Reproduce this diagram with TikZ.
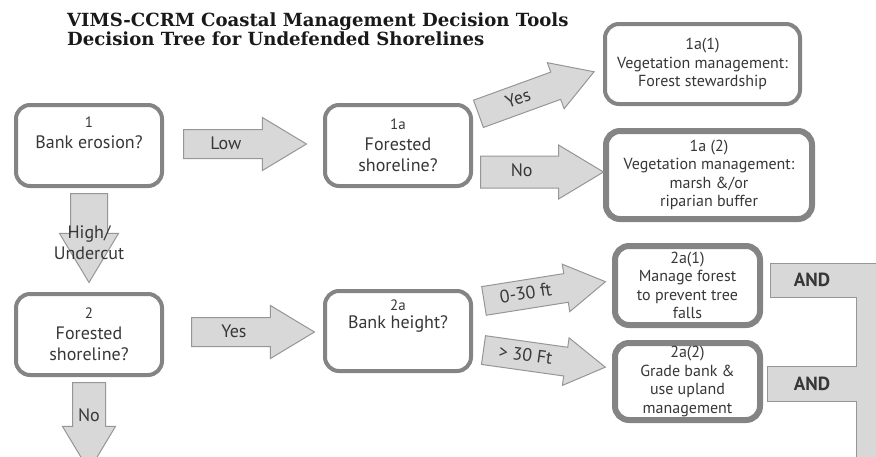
\documentclass[tikz,border=0pt]{standalone}
\usepackage{fontspec}
\setmainfont{PT Sans}
\newfontfamily\titlefont{DejaVu Serif}
\usetikzlibrary{shapes.arrows,positioning}
\definecolor{boxgray}{RGB}{132,132,132}
\definecolor{arrowfill}{RGB}{216,216,216}
\definecolor{arrowline}{RGB}{150,150,150}
\definecolor{txtgray}{RGB}{55,55,55}
\tikzset{
  decision/.style={draw=boxgray,line width=4pt,rounded corners=14pt,fill=white,align=center,text=txtgray,font=\fontsize{18}{21}\selectfont,inner sep=0},
  outcome/.style={decision,line width=6pt,font=\fontsize{16}{18.5}\selectfont},
  choice/.style={single arrow,draw=arrowline,fill=arrowfill,line width=1pt,single arrow head extend=12pt,single arrow tip angle=62,inner sep=0,text=txtgray,font=\fontsize{18}{21}\selectfont,minimum height=123pt,text height=19pt,text depth=9pt,execute at end node={\hspace{14pt}}},
  armtext/.style={align=center,text=txtgray,font=\fontsize{18}{21}\selectfont,inner sep=0},
  andtext/.style={text=txtgray,font=\bfseries\fontsize{19}{22}\selectfont,inner sep=0}
}
\def \nsz {\fontsize{15}{17}\selectfont}

\begin{document}
\begin{tikzpicture}[x=1pt,y=-1pt]
  \useasboundingbox (0,0) rectangle (876,456);
  % title
  \node[anchor=north west,align=left,inner sep=0,text=black!90,font=\titlefont\bfseries\fontsize{18.1}{19}\selectfont] (title) at (67,13)
    {VIMS-CCRM Coastal Management Decision Tools\\Decision Tree for Undefended Shorelines};
  % questions
  \node[decision,minimum width=146pt,minimum height=81pt] (erosion) at (89,145.5) {{\nsz 1}\\Bank erosion?\\[4pt]~};
  \node[decision,minimum width=146pt,minimum height=81pt] (forest1) at (398,145.5) {{\nsz 1a}\\Forested\\shoreline?};
  \node[decision,minimum width=146pt,minimum height=81pt] (forest2) at (89,334.5) {{\nsz 2}\\Forested\\shoreline?};
  \node[decision,minimum width=146pt,minimum height=80pt] (height) at (398,331) {{\nsz 2a}\\[-3pt]Bank height?\\[12pt]~};
  % outcomes
  \node[outcome,line width=4pt,minimum width=195pt,minimum height=80pt] (steward) at (702.5,64) {1a(1)\\Vegetation management:\\Forest stewardship};
  \node[outcome,minimum width=206pt,minimum height=88pt] (buffer) at (709,175) {1a (2)\\Vegetation management:\\marsh \&/or\\riparian buffer};
  \node[outcome,minimum width=145pt,minimum height=79pt] (treefall) at (687.5,285.5) {2a(1)\\Manage forest\\to prevent tree\\falls};
  \node[outcome,minimum width=145pt,minimum height=77pt] (grade) at (687.5,381.5) {2a(2)\\Grade bank \&\\use upland\\management};
  % block arrows
  \node[choice,anchor=tail] (low) at (183,144) {Low};
  \node[choice,anchor=tail,rotate=20,single arrow head extend=10pt] (yes1) at (478,114) {Yes};
  \node[choice,anchor=tail,text height=20pt,text depth=11pt,single arrow head extend=11pt] (no1) at (480,172) {No};
  \node[choice,anchor=tail] (yes2) at (191,332) {Yes};
  \node[choice,anchor=tail,rotate=9,single arrow head extend=9.5pt] (shallow) at (483.5,301) {0-30 ft};
  \node[choice,anchor=tail,rotate=-8,single arrow head extend=9.5pt] (steep) at (483,350) {> 30 Ft};
  \node[choice,anchor=tail,rotate=-90,minimum height=89pt,text height=18pt,text depth=18pt,single arrow head extend=11pt] (high) at (89,193) {};
  \node[armtext] (hightext) at (89,242.5) {High/\\Undercut};
  \node[choice,anchor=tail,rotate=-90,minimum height=88pt,text height=16pt,text depth=16pt,single arrow head extend=10pt] (nodown) at (89,382) {};
  \node[armtext] (notext) at (89,415) {No};
  % AND bracket
  \draw[arrowline,fill=arrowfill,line width=1pt] (770,263) -- (880,263) -- (880,460) -- (856,460) -- (856,401)
    -- (767,401) -- (767,366) -- (856,366) -- (856,297) -- (770,297) -- cycle;
  \node[andtext] (and1) at (812,280) {AND};
  \node[andtext] (and2) at (812,383.5) {AND};
\end{tikzpicture}
\end{document}
